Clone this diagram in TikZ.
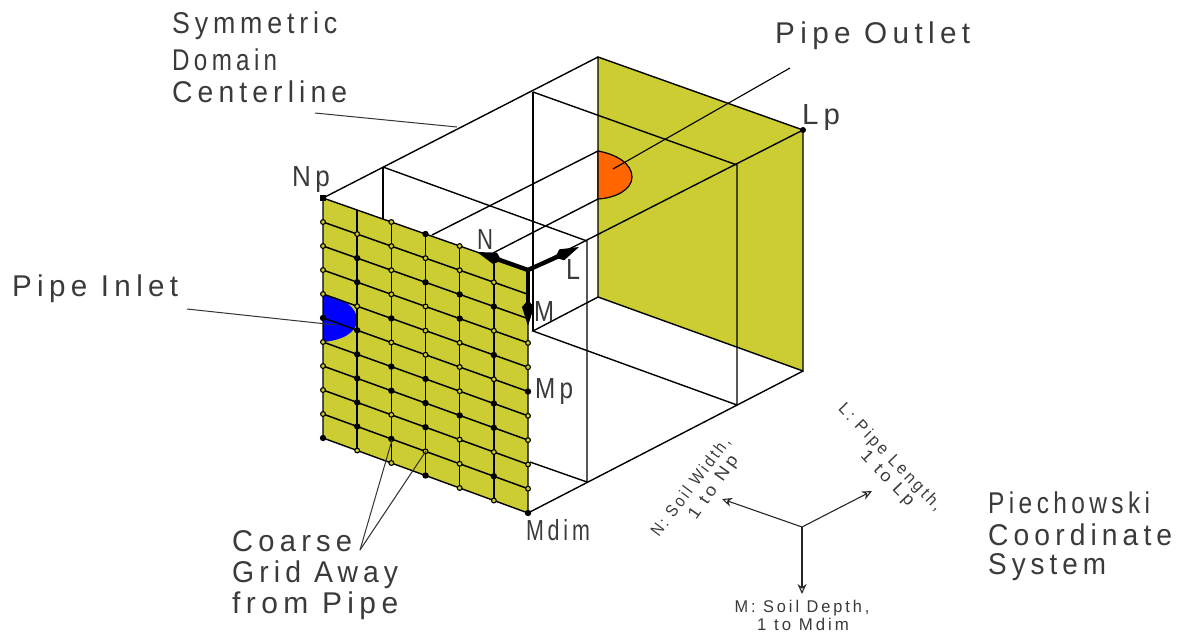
\documentclass[tikz,border=0pt]{standalone}
\usepackage{fontspec}
\setmainfont{Liberation Sans}[LetterSpace=18]
\usetikzlibrary{arrows.meta}
\definecolor{faceyellow}{HTML}{CCCC33}
\definecolor{pipeorange}{HTML}{FF6600}
\definecolor{pipeblue}{HTML}{0000FF}
\definecolor{labelgrey}{HTML}{3A3A3A}
% width-fitted label: keeps the height, sets the printed width
\newcommand{\fitw}[2]{\resizebox{#1pt}{\height}{#2}}
\tikzset{
  edge/.style={line width=1.4pt,black},
  grid line/.style={line width=1.5pt,black},
  leader/.style={line width=1pt,black!80},
  bigtext/.style={anchor=west,inner sep=0pt,text=labelgrey,font=\fontsize{30}{30}\selectfont},
  midtext/.style={anchor=center,inner sep=0pt,text=labelgrey,font=\fontsize{29}{29}\selectfont},
  smalltext/.style={anchor=center,inner sep=0pt,text=labelgrey,font=\fontsize{17}{17}\selectfont},
  axistip/.style={-{Kite[length=26pt,width=12pt,inset=7pt]},line width=4.4pt,black},
  coordarrow/.style={-{Stealth[length=10pt,width=9pt,open]},line width=1.1pt,black!85},
  openmark/.style={draw=black,fill=faceyellow,line width=1.1pt},
  fullmark/.style={fill=black}
}
\begin{document}
\begin{tikzpicture}[x=1pt,y=-1pt]
\useasboundingbox (0,0) rectangle (1177,633);
% box corners
\coordinate (Np) at (323,198);
\coordinate (FTR) at (528,270);
\coordinate (FBL) at (323,438);
\coordinate (FBR) at (528,513);
\coordinate (BTL) at (598,57);
\coordinate (BTR) at (803,130);
\coordinate (BBR) at (803,371);
\coordinate (BBL) at (598,297);
% section 1 (near)
\coordinate (S1T) at (383,167);
\coordinate (S1A) at (587,241);
\coordinate (S1B) at (587,482);
\coordinate (S1C) at (530,462);
% section 2 (far)
\coordinate (S2T) at (533,92);
\coordinate (S2A) at (737,165);
\coordinate (S2B) at (737,405);
\coordinate (S2C) at (533,331);
% pipe
\coordinate (OutT) at (598,151);
\coordinate (OutB) at (598,199);
\coordinate (InT) at (432,235);
\coordinate (InB) at (493,253);
% back face
\fill[faceyellow] (BTL) -- (BTR) -- (BBR) -- (BBL) -- cycle;
\draw[edge] (BTR) -- (BBR) -- (BBL) -- (BTL) -- (BTR);
\fill[pipeorange,draw=black,line width=1.2pt] (OutT) .. controls (615,154) and (632,163) .. (632,177) .. controls (632,190) and (615,198) .. (OutB) -- cycle;
% box wireframe
\draw[edge] (Np) -- (BTL);
\draw[edge] (FTR) -- (BTR);
\draw[edge] (FBR) -- (BBR);
\draw[edge] (S1T) -- (S1A) -- (S1B) -- (S1C);
\draw[edge] (S2T) -- (S2A) -- (S2B) -- (S2C) -- (BBL);
\draw[edge] (S2T) -- (S2C);
\draw[edge] (OutT) -- (InT);
\draw[edge] (OutB) -- (InB);
\draw[edge] (S1T) -- ++(0,55);
% front face
\fill[faceyellow] (Np) -- (FTR) -- (FBR) -- (FBL) -- cycle;
\fill[pipeblue] (323,295) .. controls (345,298) and (357,308) .. (357,320) .. controls (357,331) and (345,340) .. (323,342) -- cycle;
\foreach \r in {1,...,9}
  \draw[grid line] ({323},{198+24*\r}) -- ({528},{270+24.3*\r});
\foreach \c in {1,...,5}
  \draw[grid line] ({323+34.17*\c},{198+12*\c}) -- ({323+34.17*\c},{438+12.5*\c});
\draw[edge] (Np) -- (FTR) -- (FBR) -- (FBL) -- cycle;
% grid markers, open
\foreach \c/\r in {0/1,0/2,0/3,0/4,0/6,0/7,0/8,0/9,
  1/1,1/4,1/10,
  2/0,2/1,2/2,2/3,2/5,2/8,2/10,
  3/1,3/3,3/4,3/5,3/9,
  4/0,4/1,4/4,4/5,4/6,4/8,4/9,4/10,
  5/1,5/3,5/5,5/8,5/10,
  6/3,6/4,6/6,6/7,6/8,6/9}
  \draw[openmark] ({323+34.17*\c},{198+12*\c+(24+0.05*\c)*\r}) circle[radius=2.4pt];
% grid markers, filled
\foreach \c/\r in {0/5,0/10,
  1/2,1/3,1/5,1/6,1/7,1/8,1/9,
  2/4,2/6,2/7,2/9,
  3/0,3/2,3/6,3/7,3/8,3/10,
  4/2,4/3,4/7,
  5/0,5/2,5/4,5/6,5/7,5/9,
  6/5,6/10}
  \fill[fullmark] ({323+34.17*\c},{198+12*\c+(24+0.05*\c)*\r}) circle[radius=3.2pt];
\fill[black] (Np) ++(-3,-3) rectangle ++(6,6);
\fill[black] (BTR) circle[radius=3pt];
% local axes
\coordinate (AxN) at (477,252);
\coordinate (AxL) at (579,247);
\coordinate (AxM) at (528,326);
\draw[axistip] (FTR) -- (AxN);
\draw[axistip] (FTR) -- (AxL);
\draw[axistip] (FTR) -- (AxM);
% leaders
\coordinate (LdSymA) at (315,113);
\coordinate (LdSymB) at (457,127);
\coordinate (LdInA) at (187,309);
\coordinate (LdInB) at (336,325);
\coordinate (LdOutA) at (790,68);
\coordinate (LdOutB) at (613,169);
\coordinate (LdCoarse) at (360,550);
\coordinate (LdC1) at (392,440);
\coordinate (LdC2) at (426,451);
\draw[leader] (LdSymA) -- (LdSymB);
\draw[leader] (LdInA) -- (LdInB);
\draw[edge,line width=1.1pt] (LdOutA) -- (LdOutB);
\draw[leader] (LdCoarse) -- (LdC1);
\draw[leader] (LdCoarse) -- (LdC2);
% labels
\node[bigtext] (t1) at (172,26) {\fitw{165}{Symmetric}};
\node[bigtext] (t2) at (172,60) {\fitw{105}{Domain}};
\node[bigtext] (t3) at (172,92) {\fitw{175}{Centerline}};
\node[bigtext] (t4) at (775,36) {\fitw{195}{Pipe Outlet}};
\node[bigtext] (t5) at (12,289) {\fitw{166}{Pipe Inlet}};
\node[bigtext] (t6) at (232,541) {\fitw{120}{Coarse}};
\node[bigtext] (t7) at (232,575) {\fitw{166}{Grid Away}};
\node[bigtext] (t8) at (232,606) {\fitw{166}{from Pipe}};
\node[bigtext] (t9) at (988,503) {\fitw{162}{Piechowski}};
\node[bigtext] (t10) at (988,535) {\fitw{184}{Coordinate}};
\node[bigtext] (t11) at (988,567) {\fitw{118}{System}};
\node[midtext] (lNp) at (311,180) {\fitw{38}{Np}};
\node[midtext] (lLp) at (821,118) {\fitw{38}{Lp}};
\node[midtext] (lN) at (485,240) {\fitw{16}{N}};
\node[midtext] (lL) at (573,270) {\fitw{14}{L}};
\node[midtext] (lM) at (544,312) {\fitw{20}{M}};
\node[midtext] (lMp) at (554,392) {\fitw{38}{Mp}};
\node[midtext] (lMd) at (558,530) {\fitw{64}{Mdim}};
% coordinate system
\coordinate (O) at (802,527);
\coordinate (ON) at (722,499);
\coordinate (OL) at (872,491);
\coordinate (OM) at (802,594);
\draw[coordarrow] (O) -- (ON);
\draw[coordarrow] (O) -- (OL);
\draw[coordarrow] (O) -- (OM);
\node[smalltext,rotate=53] (cN1) at (691,487) {\fitw{120}{N: Soil Width,}};
\node[smalltext,rotate=55] (cN2) at (714,488) {\fitw{74}{1 to Np}};
\node[smalltext,rotate=-46] (cL1) at (890,458) {\fitw{142}{L: Pipe Length,}};
\node[smalltext,rotate=-46] (cL2) at (887,479) {\fitw{70}{1 to Lp}};
\node[smalltext] (cM1) at (802,608) {\fitw{135}{M: Soil Depth,}};
\node[smalltext] (cM2) at (803,624) {\fitw{92}{1 to Mdim}};
\end{tikzpicture}
\end{document}
